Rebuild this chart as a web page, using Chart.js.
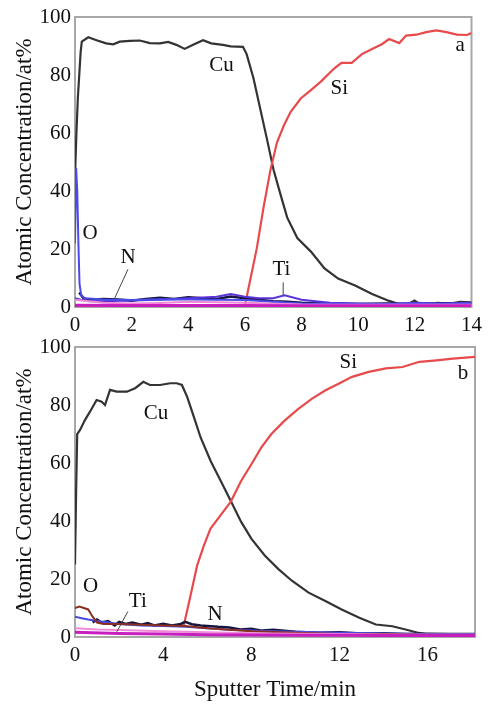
<!DOCTYPE html>
<html><head><meta charset="utf-8">
<script src="https://cdn.jsdelivr.net/npm/chart.js@4/dist/chart.umd.min.js"></script>
<style>
html,body{margin:0;padding:0;background:#fff;width:488px;height:704px;overflow:hidden}
canvas{position:absolute;left:0}
#c1{top:0}#c2{top:330px}
</style></head><body>
<canvas id="c1" width="488" height="345"></canvas>
<canvas id="c2" width="488" height="374"></canvas>
<script>
// ---------- Panel a (top) ----------
const aXTicks = [0, 2, 4, 6, 8, 10, 12, 14];
const aCuT = [0, 0.05, 0.1, 0.2, 0.24, 0.47, 0.76, 1.1, 1.35, 1.58, 1.94, 2.29, 2.64, 3.0, 3.29, 3.58, 3.87, 4.17, 4.52, 4.81, 5.22, 5.5, 5.93, 6.06, 6.3, 6.54, 6.78, 7.01, 7.25, 7.49, 7.85, 8.33, 8.81, 9.29, 9.89, 10.49, 11.09, 11.57, 11.8, 11.99, 12.2, 12.4, 12.8, 13.24, 13.6, 14];
const aCuV = [45, 60, 72, 88, 91.5, 93, 92, 90.9, 90.6, 91.5, 91.8, 91.9, 91.0, 90.9, 91.4, 90.4, 89.0, 90.4, 92, 90.9, 90.4, 89.9, 89.7, 87.2, 79, 68.4, 57.8, 47.3, 39, 30.9, 23.8, 19.1, 13.3, 9.8, 7.4, 4.5, 2.1, 0.6, 1.2, 2.2, 0.8, 0.8, 1.4, 1.2, 1.8, 1.6];
const aSiT = [0, 5.9, 6.0, 6.42, 6.66, 6.9, 7.13, 7.37, 7.61, 7.97, 8.33, 8.69, 9.05, 9.2, 9.41, 9.77, 10.13, 10.49, 10.85, 11.09, 11.45, 11.69, 12.05, 12.4, 12.76, 13.12, 13.48, 13.84, 14];
const aSiV = [0, 0, 0.5, 20.3, 34.5, 47.2, 56.7, 62.5, 67.2, 71.9, 74.8, 77.8, 81.3, 82.6, 84.2, 84.2, 87.2, 89, 90.7, 92.4, 91, 93.6, 93.9, 94.8, 95.4, 94.8, 93.9, 93.8, 94.5];
const aOT = [0, 0.04, 0.08, 0.12, 0.16, 0.22, 0.35, 1, 2, 3, 4, 5, 6, 7, 8, 9, 10, 11, 12, 13, 14];
const aOV = [22, 48, 40, 22, 8, 4, 3, 2.6, 2.4, 2.7, 2.6, 2.5, 2.4, 1.8, 1.2, 1, 1, 1, 1.1, 1, 1.1];
const aNT = [0.15, 0.3, 0.5, 1, 1.5, 2, 2.5, 3, 3.5, 4, 4.5, 5, 5.5, 6, 6.5, 7, 7.5, 8, 9, 10, 11, 12, 13, 14];
const aNV = [5, 3, 2.5, 2.8, 2.6, 2.2, 2.8, 3.2, 2.8, 3.4, 3, 2.8, 3.6, 3, 2.5, 2, 1.8, 1.5, 1.2, 1, 1.2, 1, 1.3, 1.2];
const aTiT = [0, 0.2, 0.5, 1, 2, 3, 4, 5, 5.5, 6, 6.5, 7, 7.4, 8, 9, 10, 11, 12, 13, 14];
const aTiV = [3, 2.5, 2, 2, 2.2, 2.5, 3, 3.5, 4.5, 3.5, 3, 3, 4, 2.5, 1.5, 1.2, 1, 1.5, 1.2, 1.5];
const aMagT = [0, 2, 4, 6, 8, 10, 12, 14];
const aMagV = [0.6, 0.5, 0.5, 0.5, 0.4, 0.4, 0.4, 0.4];
const aPinkT = [0, 1, 2, 3, 4, 5, 6, 8, 10, 12, 14];
const aPinkV = [2.5, 1.5, 1.2, 1.4, 1.8, 1.6, 1.5, 0.9, 0.8, 0.8, 0.8];

// ---------- Panel b (bottom) ----------
const bXTicks = [0, 4, 8, 12, 16];
const bCuT = [0, 0.05, 0.1, 0.23, 0.45, 0.68, 0.98, 1.21, 1.36, 1.59, 1.89, 2.35, 2.73, 3.1, 3.4, 3.86, 4.32, 4.62, 4.85, 5.09, 5.4, 5.7, 6.16, 6.62, 7.08, 7.54, 8.0, 8.61, 9.23, 9.84, 10.6, 11.36, 12.1, 12.9, 13.65, 14.4, 15.0, 15.6, 16.4, 17, 18.2];
const bCuV = [25, 50, 70, 71.4, 74.8, 77.7, 81.7, 81.1, 80, 85.2, 84.6, 84.6, 85.8, 88, 86.9, 86.9, 87.5, 87.5, 86.9, 82.8, 75.7, 68.8, 60.6, 53.7, 46.7, 39.7, 33.9, 28.1, 23.4, 19.4, 15.3, 12.4, 9.5, 6.6, 4.3, 3.7, 2.6, 1.4, 0.4, 0.5, 0.5];
const bSiT = [0, 4.93, 5.24, 5.54, 5.85, 6.15, 6.61, 7.07, 7.53, 7.99, 8.45, 8.9, 9.51, 10.12, 10.74, 11.35, 11.96, 12.57, 13.33, 14.1, 14.86, 15.63, 16.4, 17.15, 18.2];
const bSiV = [null, 3.8, 14.2, 24.6, 31.6, 37.4, 42, 46.7, 53.7, 59.4, 65.3, 69.9, 74.6, 78.6, 82.1, 85, 87.3, 89.7, 91.4, 92.6, 93.1, 94.9, 95.4, 96, 96.6];
const bOT = [0, 0.2, 0.4, 0.6, 0.8, 1.0, 1.3, 2, 3, 4, 5, 6, 8, 10, 12, 14, 16, 18.2];
const bOV = [10, 10.5, 10, 9.5, 7, 5, 4.5, 4.5, 4.2, 4, 3.8, 3, 2, 1.5, 1, 1, 0.8, 0.8];
const bNT = [0.8, 1, 1.2, 1.5, 1.8, 2, 2.3, 2.6, 3, 3.3, 3.6, 4, 4.4, 4.8, 5, 5.3, 5.7, 6, 6.5, 7, 7.5, 8, 8.5, 9, 10, 11, 12, 13, 14, 15, 16, 17, 18.2];
const bNV = [5, 6, 5, 5.5, 4, 5.2, 4.5, 5, 4.2, 4.8, 4, 4.6, 4, 4.5, 5.2, 4.4, 4, 3.8, 3.5, 3.3, 2.6, 2.8, 2.2, 2.5, 1.8, 1.5, 1.6, 1.2, 1.3, 1, 1.1, 1, 1];
const bTiT = [0, 0.3, 0.6, 1, 1.5, 2, 3, 4, 5, 6, 7, 8, 9, 10, 12, 14, 16, 18.2];
const bTiV = [7, 6.5, 6, 5.5, 5, 4.5, 4, 3.8, 3.5, 3, 2.5, 2.2, 2, 1.8, 1.5, 1.2, 1, 1];
const bMagT = [0, 2, 4, 6, 8, 10, 12, 14, 16, 18.2];
const bMagV = [1.6, 1.2, 1, 0.8, 0.7, 0.6, 0.6, 0.5, 0.5, 0.5];
const bPinkT = [0, 1, 2, 4, 6, 8, 10, 12, 14, 16, 18.2];
const bPinkV = [3, 2.6, 2.4, 2, 1.6, 1.3, 1.1, 1, 0.9, 0.8, 0.8];

const SERIF = '"Liberation Serif", "Times New Roman", serif';

function pts(t, v) { return t.map((x, i) => ({x: x, y: v[i]})); }
function ds(label, t, v, color, w) {
  return {label: label, data: pts(t, v), borderColor: color, backgroundColor: color,
          borderWidth: w, pointRadius: 0, tension: 0, fill: false, spanGaps: false};
}

const framePlugin = {
  id: 'frame',
  beforeDatasetsDraw(chart) {
    const a = chart.chartArea, c = chart.ctx;
    c.save(); c.strokeStyle = '#a8a8a8'; c.lineWidth = 2;
    c.strokeRect(a.left, a.top, a.right - a.left, a.bottom - a.top);
    c.restore();
  }
};
const notePlugin = {
  id: 'notes',
  afterDatasetsDraw(chart, args, opts) {
    const c = chart.ctx, xs = chart.scales.x, ys = chart.scales.y;
    c.save();
    c.strokeStyle = '#444'; c.lineWidth = 1;
    (opts.lines || []).forEach(l => {
      c.beginPath();
      c.moveTo(xs.getPixelForValue(l[0]), ys.getPixelForValue(l[1]));
      c.lineTo(xs.getPixelForValue(l[2]), ys.getPixelForValue(l[3]));
      c.stroke();
    });
    c.font = '21px ' + SERIF; c.fillStyle = '#111';
    c.textAlign = 'center'; c.textBaseline = 'middle';
    (opts.labels || []).forEach(n => {
      c.fillText(n.text, xs.getPixelForValue(n.x), ys.getPixelForValue(n.y));
    });
    c.restore();
  }
};

function makeChart(id, canvasH, xmax, xTicks, datasets, notes, xTitle) {
  return new Chart(document.getElementById(id), {
    type: 'line',
    data: {datasets: datasets},
    options: {
      responsive: false, animation: false, devicePixelRatio: 1,
      layout: {padding: {left: 0, right: id === 'c1' ? 15 : 13, top: 17, bottom: 0}},
      plugins: {legend: {display: false}, tooltip: {enabled: false}, notes: notes},
      scales: {
        x: {
          type: 'linear', min: 0, max: xmax,
          afterBuildTicks: s => { s.ticks = xTicks.map(v => ({value: v})); },
          grid: {display: false, drawTicks: false}, border: {display: false},
          ticks: {font: {family: SERIF, size: 21}, color: '#111', padding: 6, maxRotation: 0, autoSkip: false},
          title: {display: !!xTitle, text: xTitle || '', font: {family: SERIF, size: 23}, color: '#111', padding: {top: 0, bottom: 0}},
          afterFit: s => { s.height = canvasH - 307; }
        },
        y: {
          min: 0, max: 100,
          ticks: {stepSize: 20, font: {family: SERIF, size: 21}, color: '#111', padding: 4},
          grid: {display: false, drawTicks: false}, border: {display: false},
          title: {display: true, text: 'Atomic Concentration/at%', font: {family: SERIF, size: 23}, color: '#111', padding: {top: 11, bottom: 0}},
          afterFit: s => { s.width = 75; }
        }
      }
    },
    plugins: [framePlugin, notePlugin]
  });
}

makeChart('c1', 345, 14, aXTicks, [
  ds('Other', aMagT, aMagV, '#c81ec0', 3),
  ds('Other2', aPinkT, aPinkV, '#f08ad8', 2),
  ds('O', aOT, aOV, '#4a4ae8', 2),
  ds('Ti', aTiT, aTiV, '#5a34d8', 2),
  ds('N', aNT, aNV, '#16163e', 2.5),
  ds('Si', aSiT, aSiV, '#e84a4c', 2.2),
  ds('Cu', aCuT, aCuV, '#333333', 2.2)
], {
  labels: [
    {text: 'Cu', x: 5.17, y: 83.4}, {text: 'Si', x: 9.33, y: 75.2}, {text: 'a', x: 13.6, y: 90.3},
    {text: 'O', x: 0.53, y: 25.5}, {text: 'N', x: 1.87, y: 17.2}, {text: 'Ti', x: 7.29, y: 12.8}
  ],
  lines: [[1.87, 13, 1.4, 3], [7.35, 8.5, 7.35, 4]]
}, null);

makeChart('c2', 374, 18.15, bXTicks, [
  ds('Other', bMagT, bMagV, '#c81ec0', 3),
  ds('Other2', bPinkT, bPinkV, '#f08ad8', 2),
  ds('O', bOT, bOV, '#8a3020', 2),
  ds('Ti', bTiT, bTiV, '#4a4ae0', 2),
  ds('N', bNT, bNV, '#16163e', 2.5),
  ds('Si', bSiT, bSiV, '#e84a4c', 2.2),
  ds('Cu', bCuT, bCuV, '#333333', 2.2)
], {
  labels: [
    {text: 'Cu', x: 3.67, y: 77.2}, {text: 'Si', x: 12.4, y: 94.6}, {text: 'b', x: 17.6, y: 91},
    {text: 'O', x: 0.71, y: 17.3}, {text: 'Ti', x: 2.85, y: 12.2}, {text: 'N', x: 6.36, y: 7.6}
  ],
  lines: [[2.4, 8.8, 1.9, 1.8]]
}, 'Sputter Time/min');
</script>
</body></html>
